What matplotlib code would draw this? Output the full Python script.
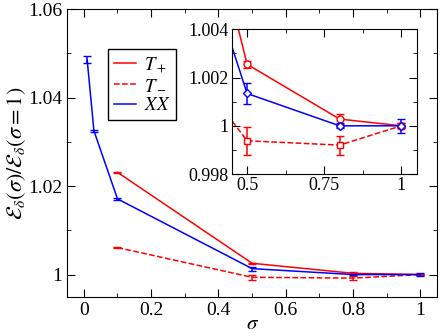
import matplotlib
matplotlib.use("Agg")
import matplotlib.pyplot as plt
from matplotlib.ticker import MultipleLocator

plt.rcParams['font.family'] = ['Liberation Serif', 'DejaVu Serif']
plt.rcParams['mathtext.fontset'] = 'stix'

# data
sig_xx = [0.01, 0.03, 0.1, 0.5, 0.8, 1.0]
xx = [1.0485, 1.0325, 1.0171, 1.00134, 1.0000, 1.0000]
xx_err = [0.0008, 0.0002, 0.0003, 0.00045, 0.0001, 0.00028]

sig_t = [0.1, 0.5, 0.8, 1.0]
tp = [1.0231, 1.00255, 1.00028, 1.0000]
tp_err = [0.0001, 0.00015, 0.0002, 0.0001]
tm = [1.0061, 0.99938, 0.9992, 1.0000]
tm_err = [0.0001, 0.00057, 0.00039, 0.0001]

fig = plt.figure(figsize=(4.43, 3.36), dpi=100)
ax = fig.add_axes([0.1512, 0.117, 0.836, 0.856])

ax.errorbar(sig_t, tp, yerr=tp_err, color='red', lw=1.1, capsize=3, label=r'$T_+$')
ax.errorbar(sig_t, tm, yerr=tm_err, color='red', lw=1.1, ls='--', capsize=3, label=r'$T_-$')
ax.errorbar(sig_xx, xx, yerr=xx_err, color='blue', lw=1.1, capsize=3, label=r'$XX$')

ax.set_xlim(-0.05, 1.05)
ax.set_ylim(0.995, 1.06)
ax.set_xticks([0, 0.2, 0.4, 0.6, 0.8, 1])
ax.set_xticklabels(['0', '0.2', '0.4', '0.6', '0.8', '1'])
ax.set_yticks([1, 1.02, 1.04, 1.06])
ax.set_yticklabels(['1', '1.02', '1.04', '1.06'])
ax.xaxis.set_minor_locator(MultipleLocator(0.1))
ax.yaxis.set_minor_locator(MultipleLocator(0.01))
ax.tick_params(which='both', direction='in', top=True, right=True, labelsize=14)
ax.tick_params(which='major', length=6)
ax.tick_params(which='minor', length=3)
ax.set_xlabel(r'$\sigma$', fontsize=15)
ax.xaxis.set_label_coords(0.5, -0.065)
ax.set_ylabel(r'$\mathcal{E}_\delta(\sigma)/\mathcal{E}_\delta(\sigma=1)$', fontsize=16, labelpad=0)

handles, labels = ax.get_legend_handles_labels()
handles = [h[0] for h in handles]
ax.legend(handles, labels, loc='upper left', bbox_to_anchor=(0.111, 0.861), fontsize=13.5,
          frameon=True, fancybox=False, edgecolor='black', framealpha=1, borderaxespad=0,
          handlelength=1.2, borderpad=0.3, labelspacing=0.15, handletextpad=0.4)
ax.get_legend().get_frame().set_linewidth(1)

ins = fig.add_axes([0.523, 0.482, 0.4176, 0.4307])
ins.errorbar(sig_t, tp, yerr=tp_err, color='red', lw=1.1, capsize=3,
             marker='o', ms=5, mfc='white', mec='red')
ins.errorbar(sig_t, tm, yerr=tm_err, color='red', lw=1.1, ls='--', capsize=3,
             marker='s', ms=5, mfc='white', mec='red')
ins.errorbar(sig_xx, xx, yerr=xx_err, color='blue', lw=1.1, capsize=3,
             marker='D', ms=4.5, mfc='white', mec='blue')
ins.set_xlim(0.45, 1.05)
ins.set_ylim(0.998, 1.004)
ins.set_xticks([0.5, 0.75, 1])
ins.set_xticklabels(['0.5', '0.75', '1'])
ins.set_yticks([0.998, 1, 1.002, 1.004])
ins.set_yticklabels(['0.998', '1', '1.002', '1.004'])
ins.xaxis.set_minor_locator(MultipleLocator(0.125))
ins.yaxis.set_minor_locator(MultipleLocator(0.001))
ins.tick_params(which='both', direction='in', top=True, right=True, labelsize=13, pad=2)
ins.tick_params(which='major', length=6)
ins.tick_params(which='minor', length=3)

fig.savefig('out.png', dpi=100)
